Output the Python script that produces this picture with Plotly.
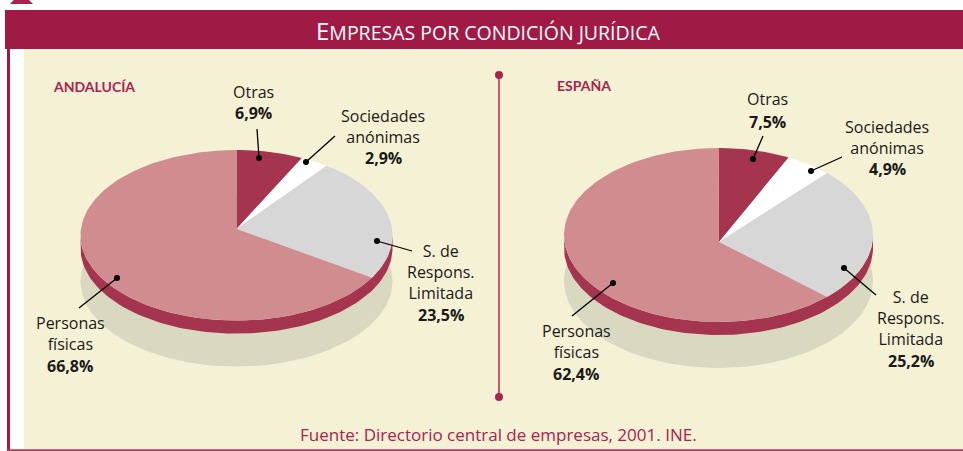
import numpy as np
import plotly.graph_objects as go

# ---------------- data ----------------
categories = ["Otras", "Sociedades anónimas", "S. de Respons. Limitada", "Personas físicas"]
label_lines = [["Otras"], ["Sociedades", "anónimas"], ["S. de", "Respons.", "Limitada"], ["Personas", "físicas"]]
andalucia = [6.9, 2.9, 23.5, 66.8]
espana = [7.5, 4.9, 25.2, 62.4]
regions = ["ANDALUCÍA", "ESPAÑA"]
title_text = "EMPRESAS POR CONDICIÓN JURÍDICA"
source_text = "Fuente: Directorio central de empresas, 2001. INE."

# ---------------- style ----------------
W, H = 963, 451
CRIMSON = "#a01a46"
SIDE = "#a5344f"
SLICE_COLORS = ["#a5344f", "#ffffff", "#d7d7d7", "#d18c90"]
SHADOW = "#d9d9c1"
CREAM = "#f5f1d4"
TXT = "#1a1a1a"
FONT = "Open Sans"

pies = [
    dict(values=andalucia, cx=236.5, cy=235.3, rx=156, ry=85.3, apex=(236.5, 229), side=13, shadow=46,
         title_xy=(51, 86),
         labels=[dict(xy=(253, 92), pct_y=113, line=((257, 129), (259, 158))),
                 dict(xy=(383, 117), pct_y=158, line=((335, 136), (306, 162))),
                 dict(xy=(441, 253), pct_y=315, line=((412, 251), (377, 241))),
                 dict(xy=(70, 324), pct_y=366, line=((79, 308), (117, 278)))]),
    dict(values=espana, cx=718.5, cy=235, rx=154.5, ry=87, apex=(719, 242), side=13, shadow=46,
         title_xy=(555, 85),
         labels=[dict(xy=(767, 99), pct_y=122, line=((763, 136), (753, 159))),
                 dict(xy=(887, 128), pct_y=169, line=((842, 157), (811, 171))),
                 dict(xy=(911, 299), pct_y=361, line=((876, 295), (844, 268))),
                 dict(xy=(576, 332), pct_y=374, line=((572, 316), (613, 283)))]),
]
LINE_SP = 19


def arc(cx, cy, rx, ry, t0, t1):
    t = np.radians(np.linspace(t0, t1, max(int(abs(t1 - t0) / 1.5) + 2, 3)))
    return cx + rx * np.sin(t), cy - ry * np.cos(t)


fig = go.Figure()

for p in pies:
    cx, cy, rx, ry = p["cx"], p["cy"], p["rx"], p["ry"]
    # shadow
    xs, ys = arc(cx, cy + p["shadow"], rx, ry, 0, 360)
    fig.add_trace(go.Scatter(x=xs, y=ys, fill="toself", fillcolor=SHADOW, mode="lines",
                             line=dict(width=0), hoverinfo="skip", showlegend=False))
    # side band (lower half of cylinder)
    xa, ya = arc(cx, cy, rx, ry, 90, 270)
    xb, yb = arc(cx, cy + p["side"], rx, ry, 270, 90)
    fig.add_trace(go.Scatter(x=np.concatenate([xa, xb]), y=np.concatenate([ya, yb]), fill="toself",
                             fillcolor=SIDE, mode="lines", line=dict(width=0),
                             hoverinfo="skip", showlegend=False))
    # top face slices
    total = sum(p["values"])
    start = 0.0
    for i, v in enumerate(p["values"]):
        end = start + v / total * 360
        xs, ys = arc(cx, cy, rx, ry, start, end)
        ax, ay = p["apex"]
        fig.add_trace(go.Scatter(x=np.concatenate([[ax], xs, [ax]]), y=np.concatenate([[ay], ys, [ay]]),
                                 fill="toself", fillcolor=SLICE_COLORS[i], mode="lines",
                                 line=dict(width=0), name=categories[i],
                                 hovertemplate=f"{categories[i]}: {v}%<extra></extra>", showlegend=False))
        start = end
    # labels
    for i, lab in enumerate(p["labels"]):
        x0, y0 = lab["xy"]
        n = len(label_lines[i])
        fig.add_annotation(x=x0, y=y0 + (n - 1) * LINE_SP / 2, text="<br>".join(label_lines[i]),
                           showarrow=False, align="center",
                           font=dict(family=FONT, size=16, color=TXT), xanchor="center", yanchor="middle")
        pct = f"{p['values'][i]:.1f}".replace(".", ",") + "%"
        fig.add_annotation(x=x0, y=lab["pct_y"], text=f"<b>{pct}</b>", showarrow=False,
                           font=dict(family=FONT, size=16, color=TXT), xanchor="center", yanchor="middle")
        (lx0, ly0), (lx1, ly1) = lab["line"]
        fig.add_trace(go.Scatter(x=[lx0, lx1], y=[ly0, ly1], mode="lines", line=dict(color="#000", width=1.3),
                                 hoverinfo="skip", showlegend=False))
        fig.add_trace(go.Scatter(x=[lx1], y=[ly1], mode="markers", marker=dict(color="#000", size=6),
                                 hoverinfo="skip", showlegend=False))

# region titles
for p, name in zip(pies, regions):
    fig.add_annotation(x=p["title_xy"][0], y=p["title_xy"][1], text=f"<b>{name}</b>", showarrow=False,
                       font=dict(family="Lato", size=14, color="#a8244f"), xanchor="left", yanchor="middle")

# background shapes
shapes = [
    dict(type="rect", x0=24, x1=W, y0=49, y1=449.5, fillcolor=CREAM, line=dict(width=0), layer="below"),
    dict(type="rect", x0=5, x1=W, y0=10, y1=49, fillcolor=CRIMSON, line=dict(width=0), layer="below"),
    dict(type="rect", x0=7, x1=10, y0=49, y1=H, fillcolor=CRIMSON, line=dict(width=0), layer="below"),
    dict(type="rect", x0=7, x1=W, y0=449.3, y1=H, fillcolor="#b33a5c", line=dict(width=0), layer="below"),
    dict(type="path", path="M 10 4 L 21 -8 L 33 4 Z", fillcolor="#a8244f", line=dict(width=0), layer="below"),
    # divider
    dict(type="line", x0=499, x1=499, y0=75, y1=397, line=dict(color="#b0294f", width=1.5)),
    dict(type="circle", x0=495, x1=503, y0=71, y1=79, fillcolor="#a8244f", line=dict(width=0)),
    dict(type="circle", x0=495, x1=503, y0=393, y1=401, fillcolor="#a8244f", line=dict(width=0)),
]

# title in small caps
title_html = title_text[0] + "<span style='font-size:19.5px'>" + title_text[1:] + "</span>"
fig.add_annotation(x=488, y=30, text=title_html, showarrow=False,
                   font=dict(family=FONT, size=24, color="white"), xanchor="center", yanchor="middle")

# source
fig.add_annotation(x=498, y=434, text=source_text, showarrow=False,
                   font=dict(family=FONT, size=17, color="#a8244f"), xanchor="center", yanchor="middle")

# cut-off header "Gráfico 4.1"
fig.add_annotation(xref="paper", yref="paper", x=42 / W, y=1, text="Gráfico 4.1", showarrow=False,
                   font=dict(family=FONT, size=16, color=TXT), xanchor="left", yanchor="bottom", yshift=-7)

fig.update_layout(
    width=W, height=H, autosize=False,
    margin=dict(l=0, r=0, t=0, b=0),
    paper_bgcolor="white", plot_bgcolor="white",
    xaxis=dict(range=[0, W], visible=False, fixedrange=True),
    yaxis=dict(range=[H, 0], visible=False, fixedrange=True),
    shapes=shapes,
    showlegend=False,
)

fig.write_html("out.html", config={"displayModeBar": False},
               post_script="document.body.style.margin='0';document.body.style.overflow='hidden';")
